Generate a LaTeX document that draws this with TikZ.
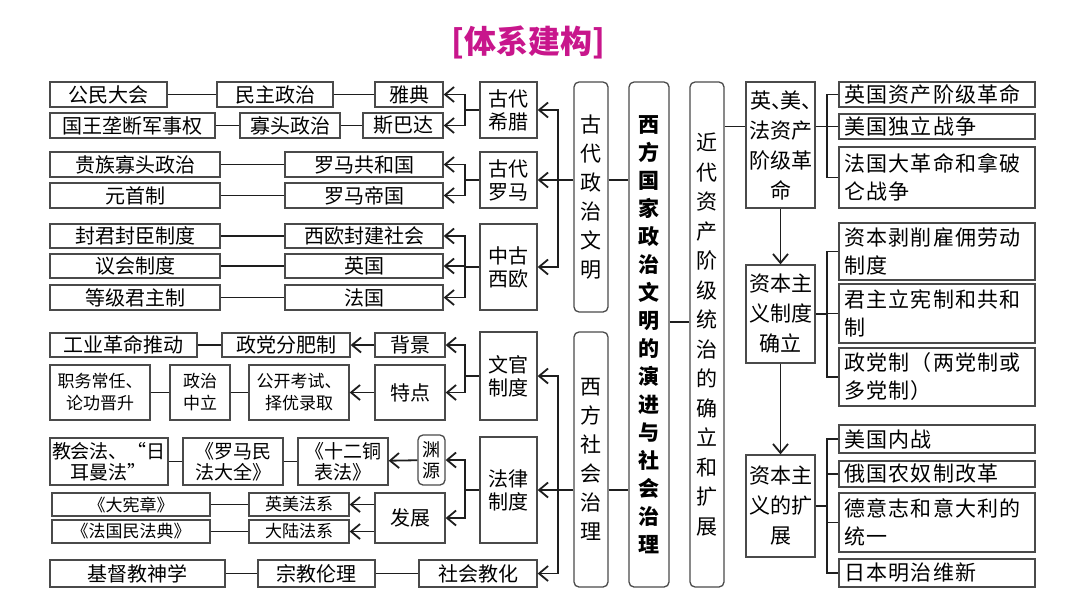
\documentclass[tikz,border=0pt]{standalone}
\usepackage{fontspec}
\newfontfamily\cjk{Noto Sans CJK SC}
\newfontfamily\cjkwide[LetterSpace=6]{Noto Sans CJK SC}
\usetikzlibrary{arrows.meta, positioning}

\definecolor{boxgray}{HTML}{4A4A4A}
\definecolor{linegray}{HTML}{1E1E1E}
\definecolor{titlemag}{HTML}{C8168C}

\newcommand{\dun}{\makebox[0.45em][l]{、}}

\tikzset{
  box/.style={draw=boxgray, line width=1.3pt, inner sep=0pt, align=center,
    font=\cjk\fontsize{20}{23}\selectfont},
  wd/.style={minimum width=#1},
  ht/.style={minimum height=#1},
  smallbox/.style={box, font=\cjk\fontsize{17}{22}\selectfont},
  vbox/.style={box, rounded corners=5pt, font=\cjk\fontsize{21}{29}\selectfont},
  rbox/.style={box, align=left, text width=186pt, inner xsep=5pt,
    font=\cjkwide\fontsize{21}{28}\selectfont},
  link/.style={draw=linegray, line width=1.8pt},
  arr/.style={link, -{Straight Barb[length=9pt,width=15pt]}},
  barr/.style={link, {Straight Barb[length=9pt,width=15pt]}-{Straight Barb[length=9pt,width=15pt]}},
}

\begin{document}
\begin{tikzpicture}[x=1pt, y=-1pt]
  \useasboundingbox (0,0) rectangle (1080,608);

  \node[font=\cjk\bfseries\fontsize{32}{36}\selectfont, text=titlemag] (title) at (528,42) {[体系建构]};

  % ancient political civilisation
  \node[box, wd=117, ht=25] (gmdh) at (108.5,94.5) {公民大会};
  \node[box, wd=116, ht=25] (mzzz) at (275,94.5) {民主政治};
  \node[box, wd=68, ht=25] (yd) at (409,94.5) {雅典};
  \node[box, wd=165, ht=25] (gwld) at (132.5,125.5) {国王垄断军事权};
  \node[box, wd=100, ht=25] (gtzz) at (290,125.5) {寡头政治};
  \node[box, wd=80, ht=25] (sbd) at (403,125.5) {斯巴达};
  \node[box, wd=57, ht=56] (gdxl) at (508.5,110) {古代\\希腊};

  \node[box, wd=170, ht=25] (gzgt) at (135,164.5) {贵族寡头政治};
  \node[box, wd=158, ht=25] (lmghg) at (364,164.5) {罗马共和国};
  \node[box, wd=170, ht=25] (yszz) at (135,195.5) {元首制};
  \node[box, wd=158, ht=25] (lmdg) at (364,195.5) {罗马帝国};
  \node[box, wd=57, ht=56] (gdlm) at (508.5,180) {古代\\罗马};

  \node[box, wd=170, ht=24] (fjfc) at (135,236) {封君封臣制度};
  \node[box, wd=158, ht=24] (xofj) at (364,236) {西欧封建社会};
  \node[box, wd=170, ht=24] (yhzd) at (135,266) {议会制度};
  \node[box, wd=158, ht=24] (yg) at (364,266) {英国};
  \node[box, wd=170, ht=25] (djjz) at (135,297.5) {等级君主制};
  \node[box, wd=158, ht=25] (fg) at (364,297.5) {法国};
  \node[box, wd=57, ht=86] (zgxo) at (508.5,267) {中古\\西欧};

  % social governance
  \node[box, wd=147, ht=24] (gygm) at (123.5,345) {工业革命推动};
  \node[box, wd=128, ht=24] (zdff) at (286,345) {政党分肥制};
  \node[box, wd=70, ht=24] (bj) at (410,345) {背景};
  \node[smallbox, wd=100, ht=55] (zwcr) at (100,392.5) {职务常任、\\论功晋升};
  \node[smallbox, wd=60, ht=55] (zzzl) at (200,392.5) {政治\\中立};
  \node[smallbox, wd=100, ht=55] (gkks) at (299,392.5) {公开考试、\\择优录取};
  \node[box, wd=70, ht=55] (td) at (410,392.5) {特点};
  \node[box, wd=57, ht=88] (wgzd) at (508.5,376) {文官\\制度};

  \node[box, wd=118, ht=47, font=\cjk\fontsize{19}{21}\selectfont] (jhf) at (109,461.5) {教会法、“日\\耳曼法”};
  \node[box, wd=100, ht=47, font=\cjk\fontsize{19}{21}\selectfont] (lmmf) at (233,461.5) {《罗马民\\法大全》};
  \node[box, wd=90, ht=47, font=\cjk\fontsize{19}{21}\selectfont] (sets) at (343,461.5) {《十二铜\\表法》};
  \node[box, wd=27, ht=50, rounded corners=5pt, font=\cjk\fontsize{18}{21}\selectfont] (yy) at (431.5,460) {渊\\源};
  \node[smallbox, wd=158, ht=23] (dxz) at (131,504.5) {《大宪章》};
  \node[smallbox, wd=100, ht=23] (ymfx) at (299,504.5) {英美法系};
  \node[smallbox, wd=158, ht=23] (fgmfd) at (131,531.5) {《法国民法典》};
  \node[smallbox, wd=100, ht=23] (dlfx) at (299,531.5) {大陆法系};
  \node[box, wd=70, ht=50] (fz) at (410,518) {发展};
  \node[box, wd=57, ht=106] (flzd) at (508.5,490) {法律\\制度};

  \node[box, wd=175, ht=27] (jdjsx) at (137.5,573.5) {基督教神学};
  \node[box, wd=117, ht=27] (zjll) at (316.5,573.5) {宗教伦理};
  \node[box, wd=118, ht=27] (shjh) at (478,573.5) {社会教化};

  % middle columns
  \node[vbox, wd=34, ht=230] (gdzzwm) at (591,197) {古\\代\\政\\治\\文\\明};
  \node[vbox, wd=34, ht=255] (xfshzl) at (591,459.5) {西\\方\\社\\会\\治\\理};
  \node[vbox, wd=40, ht=505, font=\cjk\bfseries\fontsize{21}{28}\selectfont] (zx) at (649,334.5)
    {西\\方\\国\\家\\政\\治\\文\\明\\的\\演\\进\\与\\社\\会\\治\\理};
  \node[vbox, wd=34, ht=505, font=\cjk\fontsize{21}{29.5}\selectfont] (jd) at (707,334.5)
    {近\\代\\资\\产\\阶\\级\\统\\治\\的\\确\\立\\和\\扩\\展};

  % modern bourgeois rule
  \node[box, wd=69, ht=126, font=\cjk\fontsize{21}{30}\selectfont] (ymf) at (780.5,145) {英\dun 美\dun\\法资产\\阶级革\\命};
  \node[rbox, ht=25] (ygzc) at (937,94.5) {英国资产阶级革命};
  \node[rbox, ht=25] (mgdl) at (937,126.5) {美国独立战争};
  \node[rbox, ht=61] (fgdgm) at (937,177.5) {法国大革命和拿破\\仑战争};

  \node[box, wd=69, ht=98, font=\cjk\fontsize{21}{30}\selectfont] (zbzy) at (780.5,314) {资本主\\义制度\\确立};
  \node[rbox, ht=57] (zbbx) at (937,251.5) {资本剥削雇佣劳动\\制度};
  \node[rbox, ht=59] (jzlx) at (937,313.5) {君主立宪制和共和\\制};
  \node[rbox, ht=58] (zdz) at (937,377) {政党制（两党制或\\多党制）};

  \node[box, wd=69, ht=102, font=\cjk\fontsize{21}{30}\selectfont] (zbkz) at (780.5,506) {资本主\\义的扩\\展};
  \node[rbox, ht=28] (mgnz) at (937,439) {美国内战};
  \node[rbox, ht=26] (egnn) at (937,474) {俄国农奴制改革};
  \node[rbox, ht=59] (dyz) at (937,522.5) {德意志和意大利的\\统一};
  \node[rbox, ht=28] (rbmz) at (937,573) {日本明治维新};

  \coordinate (bx) at (465,0);
  \coordinate (tx) at (558,0);
  \coordinate (rx) at (827,0);
  \coordinate (mid) at (0,322);

  % left connectors
  \draw[link] (gmdh) -- (mzzz);
  \draw[link] (mzzz) -- (yd);
  \draw[link] (gwld) -- (gtzz);
  \draw[link] (gtzz) -- (sbd);
  \draw[link] (gzgt) -- (lmghg);
  \draw[link] (yszz) -- (lmdg);
  \draw[link] (fjfc) -- (xofj);
  \draw[link] (yhzd) -- (yg);
  \draw[link] (djjz) -- (fg);

  \draw[link] (gdxl.west) -- (bx |- gdxl);
  \draw[barr] (yd.east) -| (bx |- sbd) -- (sbd.east);
  \draw[link] (gdlm.west) -- (bx |- gdlm);
  \draw[barr] (lmghg.east) -| (bx |- lmdg) -- (lmdg.east);
  \draw[link] (zgxo.west) -- (bx |- zgxo);
  \draw[barr] (xofj.east) -| (bx |- fg) -- (fg.east);
  \draw[arr] (bx |- yg) -- (yg.east);

  \draw[barr] (gdxl.east) -| (tx |- zgxo) -- (zgxo.east);
  \draw[arr] (gdzzwm.west |- gdlm) -- (gdlm.east);
  \draw[link] (gdzzwm.east |- gdlm) -- (zx.west |- gdlm);

  \draw[link] (gygm) -- (zdff);
  \draw[arr] (bj) -- (zdff);
  \draw[link] (zwcr) -- (zzzl);
  \draw[link] (zzzl) -- (gkks);
  \draw[arr] (td) -- (gkks);
  \draw[link] (wgzd.west) -- (bx |- wgzd);
  \draw[barr] (bj.east) -| (bx |- td) -- (td.east);

  \draw[link] (jhf) -- (lmmf);
  \draw[link] (lmmf) -- (sets);
  \draw[arr] (yy) -- (sets);
  \draw[link] (dxz) -- (ymfx);
  \draw[link] (fgmfd) -- (dlfx);
  \draw[arr] (fz.west |- ymfx) -- (ymfx.east);
  \draw[arr] (fz.west |- dlfx) -- (dlfx.east);
  \draw[link] (flzd.west) -- (bx |- flzd);
  \draw[barr] (yy.east) -| (bx |- fz) -- (fz.east);

  \draw[link] (jdjsx) -- (zjll);
  \draw[link] (zjll) -- (shjh);

  \draw[barr] (wgzd.east) -| (tx |- shjh) -- (shjh.east);
  \draw[arr] (xfshzl.west |- flzd) -- (flzd.east);
  \draw[link] (xfshzl.east |- flzd) -- (zx.west |- flzd);

  % right connectors
  \draw[link] (zx.east |- mid) -- (jd.west |- mid);
  \draw[link] (jd.east |- mgdl) -- (ymf.west |- mgdl);
  \draw[link] (ymf.east |- mgdl) -- (mgdl.west);
  \draw[link] (ygzc.west) -| (rx |- fgdgm) -- (fgdgm.west);

  \draw[link] (zbzy.east) -- (zbzy.east -| rx);
  \draw[link] (rx |- jzlx) -- (jzlx.west);
  \draw[link] (zbbx.west) -| (rx |- zdz) -- (zdz.west);

  \draw[link] (zbkz.east) -- (zbkz.east -| rx);
  \draw[link] (mgnz.west) -| (rx |- rbmz) -- (rbmz.west);
  \draw[link] (rx |- egnn) -- (egnn.west);
  \draw[link] (rx |- dyz) -- (dyz.west);

  \draw[arr] (ymf) -- (zbzy);
  \draw[arr] (zbzy) -- (zbkz);
\end{tikzpicture}
\end{document}
